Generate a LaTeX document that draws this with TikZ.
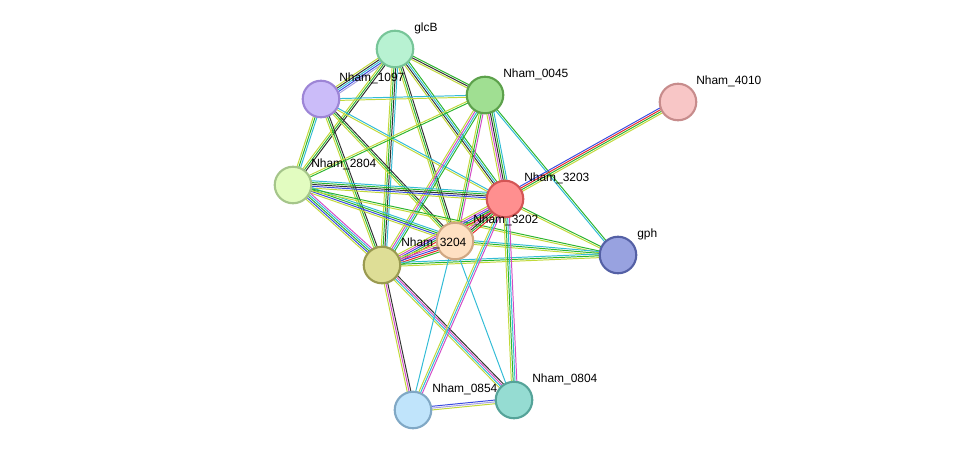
\documentclass[tikz,border=0pt]{standalone}
\usepackage{fontspec}
\setmainfont{Liberation Sans}
\usetikzlibrary{calc,backgrounds}

\definecolor{tm}{HTML}{C2D93A}
\definecolor{cx}{HTML}{333333}
\definecolor{db}{HTML}{33BCD6}
\definecolor{ex}{HTML}{D24CC6}
\definecolor{nb}{HTML}{2DB52D}
\definecolor{fu}{HTML}{E8252A}
\definecolor{co}{HTML}{3A4BE0}
\definecolor{ho}{HTML}{A7A0E0}

\definecolor{fglcB}{HTML}{B8F2D2}\definecolor{dglcB}{HTML}{77C598}
\definecolor{f1097}{HTML}{CBBCF9}\definecolor{d1097}{HTML}{9D85D6}
\definecolor{f0045}{HTML}{A0DF92}\definecolor{d0045}{HTML}{5CA14B}
\definecolor{f4010}{HTML}{F8C6C6}\definecolor{d4010}{HTML}{C78C8C}
\definecolor{f2804}{HTML}{E2FCC0}\definecolor{d2804}{HTML}{A5C58A}
\definecolor{f3203}{HTML}{FF8F8F}\definecolor{d3203}{HTML}{D45555}
\definecolor{f3202}{HTML}{FEE0C2}\definecolor{d3202}{HTML}{D0A782}
\definecolor{f3204}{HTML}{DEDE96}\definecolor{d3204}{HTML}{9A9A50}
\definecolor{fgph}{HTML}{98A2E0}\definecolor{dgph}{HTML}{5460A5}
\definecolor{f0854}{HTML}{C0E4FB}\definecolor{d0854}{HTML}{80A8C5}
\definecolor{f0804}{HTML}{95DCD2}\definecolor{d0804}{HTML}{55A399}

\tikzset{
  prot/.style={circle, draw=d#1, fill=f#1, line width=1.5pt, minimum size=26pt, inner sep=0pt},
  lbl/.style={font=\fontsize{8.5}{10}\selectfont, anchor=west, inner sep=0pt}
}

% one STRING link: a bundle of parallel coloured lines
\newcommand\link[3]{%
  \foreach \c [count=\i] in {#3}{%
    \draw[\c, line width=0.7pt]
      ($(#1)!{(\i-2)*1.3pt}!90:(#2)$) -- ($(#2)!{(\i-2)*1.3pt}!-90:(#1)$);}}

\begin{document}
\begin{tikzpicture}[x=0.025cm,y=-0.025cm]
\useasboundingbox (0,0) rectangle (975,456);

\node[prot=glcB] (glcB) at (395,49) {};
\node[prot=1097] (n1097) at (321,99) {};
\node[prot=0045] (n0045) at (485,95) {};
\node[prot=4010] (n4010) at (678,102) {};
\node[prot=2804] (n2804) at (293,185) {};
\node[prot=3203] (n3203) at (505,199) {};
\node[prot=3202] (n3202) at (455,241) {};
\node[prot=3204] (n3204) at (382,265) {};
\node[prot=gph] (gph) at (618,255) {};
\node[prot=0854] (n0854) at (413,410) {};
\node[prot=0804] (n0804) at (514,400) {};

\node[lbl] at ($(glcB)+(19,-21)$) {glcB};
\node[lbl] at ($(n1097)+(18,-21)$) {Nham\_1097};
\node[lbl] at ($(n0045)+(18,-21)$) {Nham\_0045};
\node[lbl] at ($(n4010)+(18,-21)$) {Nham\_4010};
\node[lbl] at ($(n2804)+(18,-21)$) {Nham\_2804};
\node[lbl] at ($(n3203)+(19,-21)$) {Nham\_3203};
\node[lbl] at ($(n3202)+(18,-21)$) {Nham\_3202};
\node[lbl] at ($(n3204)+(19,-22)$) {Nham\_3204};
\node[lbl] at ($(gph)+(19,-21)$) {gph};
\node[lbl] at ($(n0854)+(19,-21)$) {Nham\_0854};
\node[lbl] at ($(n0804)+(18,-21)$) {Nham\_0804};

\begin{scope}[on background layer]
\link{glcB}{n1097}{tm,cx,db,co,ho}
\link{glcB}{n0045}{tm,cx,nb}
\link{glcB}{n2804}{tm,nb,cx}
\link{glcB}{n3203}{tm,cx,db,nb}
\link{glcB}{n3202}{tm,nb,cx}
\link{glcB}{n3204}{tm,nb,cx,db}
\link{n1097}{n0045}{tm,db}
\link{n1097}{n2804}{tm,nb,db}
\link{n1097}{n3203}{tm,db}
\link{n1097}{n3202}{tm,nb,cx}
\link{n1097}{n3204}{tm,nb,cx}
\link{n0045}{n2804}{tm,nb}
\link{n0045}{n3203}{tm,ex,cx,nb,db}
\link{n0045}{n3202}{tm,nb,ex}
\link{n0045}{n3204}{tm,ex,db,nb}
\link{n0045}{gph}{db,nb}
\link{n2804}{n3203}{tm,co,cx,nb,db}
\link{n2804}{n3202}{tm,co,nb,db}
\link{n2804}{n3204}{tm,co,nb,db,ex}
\link{n2804}{gph}{tm,nb}
\link{n3203}{n3202}{tm,ex,cx,nb,fu}
\link{n3203}{n3204}{tm,ex,co,nb,fu}
\link{n3202}{n3204}{tm,ex,co,fu,nb}
\link{n3203}{n4010}{tm,nb,fu,co}
\link{n3203}{gph}{tm,nb}
\link{n3202}{gph}{tm,nb,db}
\link{n3204}{gph}{tm,nb,db}
\link{n3204}{n0854}{tm,ex,cx}
\link{n3204}{n0804}{tm,db,ex,cx}
\link{n3203}{n0854}{tm,db,ex}
\link{n3203}{n0804}{tm,nb,db,ex}
\link{n3202}{n0854}{db}
\link{n3202}{n0804}{db}
\link{n0854}{n0804}{tm,ho,co}
\end{scope}
\end{tikzpicture}
\end{document}
